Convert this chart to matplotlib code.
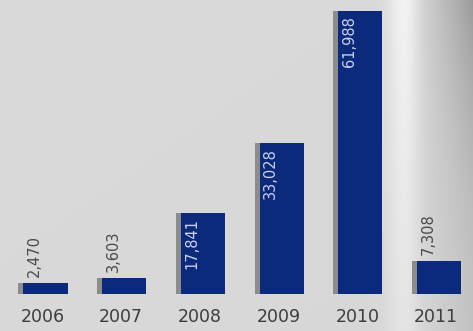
import numpy as np
import matplotlib
matplotlib.use("Agg")
import matplotlib.pyplot as plt

# Yearly totals
years = ["2006", "2007", "2008", "2009", "2010", "2011"]
values = [2470, 3603, 17841, 33028, 61988, 7308]
value_labels = ["2,470", "3,603", "17,841", "33,028", "61,988", "7,308"]

W, H, DPI = 473, 331, 100
fig = plt.figure(figsize=(W / DPI, H / DPI), dpi=DPI)

# Light-grey backdrop with a bright band and darker shading on the right
bg_ax = fig.add_axes([0, 0, 1, 1])
xx, yy = np.meshgrid(np.arange(W), np.arange(H))
bg = 0.85 + 0.005 * (1 - yy / H) - 0.005 * (xx / W)
bg += 0.10 * np.exp(-((xx - 402) / 15.0) ** 2) * (0.5 + 0.5 * (1 - yy / H))
ramp = np.clip((xx - 410) / 63.0, 0, 1)
bg -= ramp ** 1.2 * (0.09 + 0.16 * (1 - yy / H) ** 2)
bg = np.clip(bg, 0, 1)
bg_ax.imshow(np.dstack([bg, bg, bg]), extent=(0, W, H, 0), aspect="auto",
             interpolation="bilinear")
bg_ax.set_axis_off()

# Bar chart area: baseline sits at y=294 px, x positions spaced ~78.7 px
unit = 78.7
x0 = 45.5
ax = fig.add_axes([0, (H - 294) / H, 1, 283.0 / H])
ax.set_facecolor("none")
ax.set_xlim(-x0 / unit, (W - x0) / unit)
ax.set_ylim(0, 62000)

pos = np.arange(len(years))
bar_w = 44 / unit
shadow_off = 5 / unit

ax.bar(pos - shadow_off, values, width=bar_w, color="#8c8c8c", zorder=2)
ax.bar(pos, values, width=bar_w, color="#0c2a7c", zorder=3)

px_per_val = 283.0 / 62000
for p, v, lab in zip(pos, values, value_labels):
    lx = p - 11 / unit
    if v > 10000:
        ax.text(lx, v - 5 / px_per_val, lab, rotation=90, ha="center", va="top",
                fontsize=10.5, color="#c9d2ea", zorder=4)
    else:
        ax.text(lx, v + 6 / px_per_val, lab, rotation=90, ha="center", va="bottom",
                fontsize=10.5, color="#4a4a4a", zorder=4)

ax.set_xticks(pos - 3 / unit)
ax.set_xticklabels(years, fontsize=12.5, color="#3c3c3c")
ax.tick_params(axis="x", length=0, pad=10)
ax.set_yticks([])
for s in ax.spines.values():
    s.set_visible(False)

fig.savefig("out.png", dpi=DPI)
